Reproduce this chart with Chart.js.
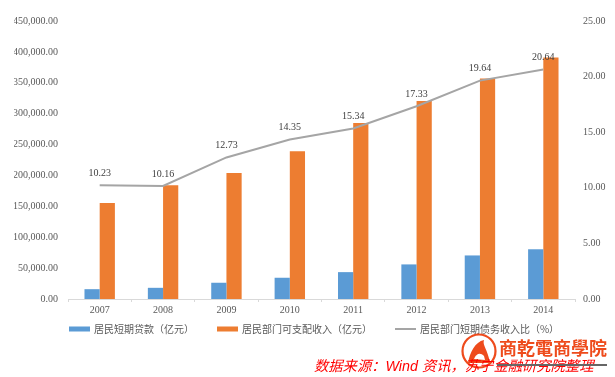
<!DOCTYPE html>
<html>
<head>
<meta charset="utf-8">
<script src="https://cdn.jsdelivr.net/npm/chart.js@4"></script>
<style>
  html, body { margin: 0; padding: 0; background: #fff; }
  #wrap { position: relative; width: 615px; height: 377px; overflow: hidden; }
  #wrap canvas { display: block; }
  #source { position: absolute; left: 314px; top: 354px; font: italic 14.3px "Liberation Sans", "Noto Sans CJK SC"; color: #f00; white-space: nowrap; }
  #school { position: absolute; left: 499px; top: 336px; font: bold 18px/22px "Noto Sans CJK TC"; color: #ee4b1c; white-space: nowrap; }
  #strike { position: absolute; left: 497px; top: 364px; width: 110px; height: 1.5px; background: #666; }
  #logo { position: absolute; left: 460px; top: 332px; }
</style>
</head>
<body>
<div id="wrap">
  <canvas id="myChart" width="615" height="377"></canvas>
  <svg id="logo" width="38" height="38"><circle cx="19" cy="19" r="16.5" fill="none" stroke="#ee4b1c" stroke-width="2.2"/><path d="M8 31 C10 20 15 10 24 8 C22 13 28 18 30 31 Z" fill="#ee4b1c"/><path d="M14 27 C16 22 20 20 24 24 L25 28 Z" fill="#fff"/></svg>
  <div id="source">数据来源：Wind 资讯，苏宁金融研究院整理</div>
  <div id="school">商乾電商學院</div>
  <div id="strike"></div>
</div>
<script>
const years = ['2007', '2008', '2009', '2010', '2011', '2012', '2013', '2014'];
const loans = [15900, 18100, 26300, 34400, 43500, 56000, 70500, 80500];
const income = [155300, 184000, 204000, 239000, 285000, 320700, 357000, 391000];
const ratio = [10.23, 10.16, 12.73, 14.35, 15.34, 17.33, 19.64, 20.64];

// petit canvas pour les symboles de légende
function swatch(color, h) {
    const c = document.createElement('canvas');
    c.width = 21; c.height = 6;
    const g = c.getContext('2d');
    g.fillStyle = color;
    g.fillRect(0, (6 - h) / 2, 21, h);
    return c;
}

// étiquettes au-dessus de la ligne
const lineLabels = {
    id: 'lineLabels',
    // l'axe x est réduit pour rapprocher la légende, on rend la place aux labels (clip)
    beforeDraw(chart) {
        chart.scales.x.bottom = chart.scales.x.top + 20;
    },
    afterDatasetsDraw(chart) {
        const pts = chart.getDatasetMeta(2).data;
        const g = chart.ctx;
        g.save();
        g.font = '10px "Liberation Serif"';
        g.fillStyle = '#404040';
        g.textAlign = 'center';
        g.textBaseline = 'middle';
        pts.forEach((p, i) => g.fillText(ratio[i].toFixed(2), p.x, p.y - 12));
        g.restore();
    }
};

const tickFont = { family: '"Liberation Serif"', size: 10 };

new Chart(document.getElementById('myChart'), {
    data: {
        labels: years,
        datasets: [
            { type: 'bar', label: '居民短期贷款（亿元）', data: loans, backgroundColor: '#5b9bd5', yAxisID: 'y', order: 2, pointStyle: swatch('#5b9bd5', 5) },
            { type: 'bar', label: '居民部门可支配收入（亿元）', data: income, backgroundColor: '#ed7d31', yAxisID: 'y', order: 2, pointStyle: swatch('#ed7d31', 5) },
            { type: 'line', label: '居民部门短期债务收入比（%）', data: ratio, borderColor: '#a5a5a5', borderWidth: 2, pointRadius: 0, yAxisID: 'y2', order: 1, pointStyle: swatch('#a5a5a5', 2) }
        ]
    },
    options: {
        responsive: false,
        animation: false,
        categoryPercentage: 0.48,
        barPercentage: 1,
        layout: { padding: { top: 21, bottom: 33, left: 14 } },
        plugins: {
            legend: {
                position: 'bottom',
                labels: {
                    usePointStyle: true,
                    pointStyleWidth: 19,
                    boxHeight: 6,
                    padding: 24,
                    color: '#595959',
                    font: { family: '"Noto Sans CJK SC"', size: 10 },
                    sort: (a, b) => a.datasetIndex - b.datasetIndex
                }
            },
            tooltip: { enabled: false }
        },
        scales: {
            x: {
                afterFit(s) { s.height = 1; },
                grid: { drawOnChartArea: false, color: '#d9d9d9', tickLength: 3 },
                border: { color: '#d9d9d9' },
                ticks: { color: '#595959', font: tickFont, padding: 2.5, autoSkip: false, maxRotation: 0 }
            },
            y: {
                position: 'left',
                min: 0, max: 450000,
                afterFit(s) { s.width = 54; },
                grid: { display: false, drawTicks: false },
                border: { display: false },
                ticks: { stepSize: 50000, color: '#595959', font: tickFont, padding: 10, callback: v => v.toLocaleString('en-US', { minimumFractionDigits: 2 }) }
            },
            y2: {
                position: 'right',
                min: 0, max: 25,
                afterFit(s) { s.width = 40; },
                grid: { display: false, drawTicks: false },
                border: { display: false },
                ticks: { stepSize: 5, color: '#595959', font: tickFont, padding: 8, callback: v => v.toFixed(2) }
            }
        }
    },
    plugins: [lineLabels]
});
</script>
</body>
</html>
